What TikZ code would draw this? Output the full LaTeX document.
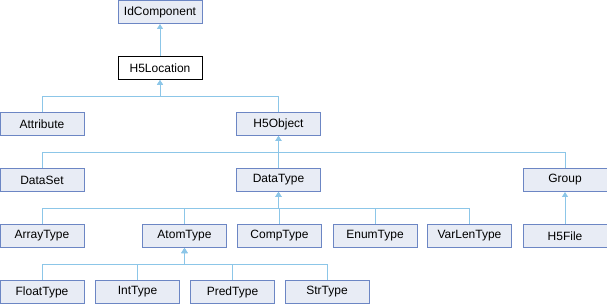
\documentclass[tikz,border=0pt]{standalone}
\usepackage{fontspec}
\setmainfont{Liberation Sans}
\usetikzlibrary{arrows.meta}
\definecolor{boxfill}{RGB}{232,236,245}
\definecolor{boxline}{RGB}{108,134,196}
\definecolor{edgeblue}{RGB}{140,198,232}
\tikzset{hier edge/.style={{Triangle[length=5pt,width=6pt,fill=edgeblue]}-, draw=edgeblue, line width=1pt}}
\tikzset{cls box/.style={draw=boxline, fill=boxfill, line width=1pt, minimum width=84pt, minimum height=23pt, inner sep=0pt, font=\fontsize{12}{14}\selectfont}}
\tikzset{cls self/.style={cls box, draw=black, fill=white}}

\begin{document}
\begin{tikzpicture}[x=1pt,y=-1pt]
		\useasboundingbox (0,0) rectangle (607,304);

		\node[cls box] (idcomp) at (160,12) {IdComponent};
		\node[cls self] (loc) at (160,68) {H5Location};

		\node[cls box] (attr) at (42,124) {Attribute};
		\node[cls box] (obj) at (278.5,124) {H5Object};

		\node[cls box] (dset) at (42,180) {DataSet};
		\node[cls box] (dtype) at (278.5,180) {DataType};
		\node[cls box] (group) at (565,180) {Group};

		\node[cls box] (arrt) at (42,236) {ArrayType};
		\node[cls box] (atomt) at (184.5,236) {AtomType};
		\node[cls box] (compt) at (279.5,236) {CompType};
		\node[cls box] (enumt) at (375,236) {EnumType};
		\node[cls box] (vlent) at (469.5,236) {VarLenType};
		\node[cls box] (file) at (565,236) {H5File};

		\node[cls box] (floatt) at (42,292) {FloatType};
		\node[cls box] (intt) at (137.5,292) {IntType};
		\node[cls box] (predt) at (232.5,292) {PredType};
		\node[cls box] (strt) at (327,292) {StrType};

		\draw[hier edge] (idcomp.south) -- (loc.north);

		\draw[hier edge] (loc.south) -- ++(0,16.5) -| (attr.north);
		\draw[hier edge] (loc.south) -- ++(0,16.5) -| (obj.north);

		\draw[hier edge] (obj.south) -- ++(0,16.5) -| (dset.north);
		\draw[hier edge] (obj.south) -- (dtype.north);
		\draw[hier edge] (obj.south) -- ++(0,16.5) -| (group.north);

		\draw[hier edge] (dtype.south) -- ++(0,16.5) -| (arrt.north);
		\draw[hier edge] (dtype.south) -- ++(0,16.5) -| (atomt.north);
		\draw[hier edge] (dtype.south) -- ++(0,16.5) -| (compt.north);
		\draw[hier edge] (dtype.south) -- ++(0,16.5) -| (enumt.north);
		\draw[hier edge] (dtype.south) -- ++(0,16.5) -| (vlent.north);
		\draw[hier edge] (group.south) -- (file.north);

		\draw[hier edge] (atomt.south) -- ++(0,16.5) -| (floatt.north);
		\draw[hier edge] (atomt.south) -- ++(0,16.5) -| (intt.north);
		\draw[hier edge] (atomt.south) -- ++(0,16.5) -| (predt.north);
		\draw[hier edge] (atomt.south) -- ++(0,16.5) -| (strt.north);
	\end{tikzpicture}
\end{document}
